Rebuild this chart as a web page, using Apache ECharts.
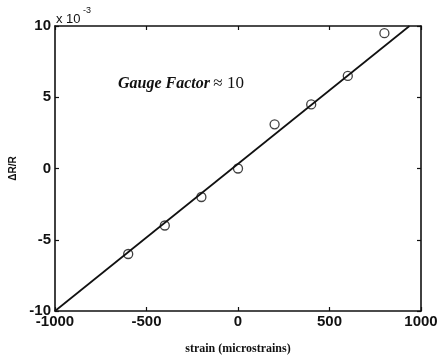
<!DOCTYPE html>
<html>
<head>
<meta charset="utf-8">
<script src="https://cdn.jsdelivr.net/npm/echarts@6/dist/echarts.min.js"></script>
<style>
  html, body { margin: 0; padding: 0; background: #fff; }
  #chart { width: 438px; height: 356px; }
</style>
</head>
<body>
<div id="chart"></div>
<script>
// Measured strain (microstrains) and relative resistance change (x 10^-3)
const strain = [-600, -400, -200, 0, 200, 400, 600, 800];
const deltaR = [-6.0, -4.0, -2.0, 0.0, 3.1, 4.5, 6.5, 9.5];

// Fitted line end points
const fitStrain = [-1000, 937];
const fitDeltaR = [-10, 10];

const xTicks = [-1000, -500, 0, 500, 1000];
const yTicks = [-10, -5, 0, 5, 10];

const chart = echarts.init(document.getElementById('chart'), null, { renderer: 'canvas' });

const axisFont = { color: '#111', fontFamily: 'Liberation Sans, Arial, sans-serif', fontSize: 15, fontWeight: 'bold' };
const axisLine = { show: true, onZero: false, lineStyle: { color: '#111', width: 1.6 } };
const tick = { show: true, inside: true, length: 4, lineStyle: { color: '#111', width: 1.2 } };
const plain = v => String(v);

chart.setOption({
  animation: false,
  backgroundColor: '#fff',
  grid: { left: 55, right: 17, top: 26, bottom: 45, containLabel: false, outerBoundsMode: 'none' },
  xAxis: [
    {
      type: 'value', min: xTicks[0], max: xTicks[xTicks.length - 1], interval: 500,
      position: 'bottom',
      axisLine, axisTick: tick, splitLine: { show: false },
      axisLabel: Object.assign({ margin: 3, formatter: plain, showMinLabel: true, showMaxLabel: true }, axisFont),
      name: 'strain (microstrains)', nameLocation: 'middle', nameGap: 32,
      nameTextStyle: { color: '#111', fontFamily: 'Liberation Serif, Times New Roman, serif', fontSize: 12, fontWeight: 'bold' }
    },
    {
      type: 'value', min: xTicks[0], max: xTicks[xTicks.length - 1], interval: 500,
      position: 'top',
      axisLine, axisTick: tick, splitLine: { show: false }, axisLabel: { show: false }
    }
  ],
  yAxis: [
    {
      type: 'value', min: yTicks[0], max: yTicks[yTicks.length - 1], interval: 5,
      position: 'left',
      axisLine, axisTick: tick, splitLine: { show: false },
      axisLabel: Object.assign({ margin: 4, formatter: plain }, axisFont),
      name: 'ΔR/R', nameLocation: 'middle', nameGap: 28, nameRotate: 90,
      nameTextStyle: { color: '#111', fontFamily: 'Liberation Sans, Arial, sans-serif', fontSize: 10, fontWeight: 'bold' }
    },
    {
      type: 'value', min: yTicks[0], max: yTicks[yTicks.length - 1], interval: 5,
      position: 'right',
      axisLine, axisTick: tick, splitLine: { show: false }, axisLabel: { show: false }
    }
  ],
  graphic: [
    {
      type: 'text', left: 56, top: 13,
      style: { text: 'x 10', fill: '#111', font: '13px Liberation Sans, Arial, sans-serif' }
    },
    {
      type: 'text', left: 83, top: 6,
      style: { text: '-3', fill: '#111', font: '9px Liberation Sans, Arial, sans-serif' }
    },
    {
      type: 'text', left: 118, top: 75,
      style: {
        text: '{i|Gauge Factor} {n|≈ 10}',
        rich: {
          i: { fontFamily: 'Liberation Serif, Times New Roman, serif', fontStyle: 'italic', fontWeight: 'bold', fontSize: 16, fill: '#111' },
          n: { fontFamily: 'Liberation Serif, Times New Roman, serif', fontSize: 17, fill: '#111' }
        }
      }
    }
  ],
  series: [
    {
      type: 'line',
      data: fitStrain.map((s, i) => [s, fitDeltaR[i]]),
      showSymbol: false, symbol: 'none',
      lineStyle: { color: '#111', width: 1.7 },
      z: 2
    },
    {
      type: 'scatter',
      data: strain.map((s, i) => [s, deltaR[i]]),
      symbol: 'circle', symbolSize: 9,
      itemStyle: { color: 'rgba(255,255,255,0)', borderColor: '#111', borderWidth: 1.3 },
      z: 3
    }
  ]
});
</script>
</body>
</html>
